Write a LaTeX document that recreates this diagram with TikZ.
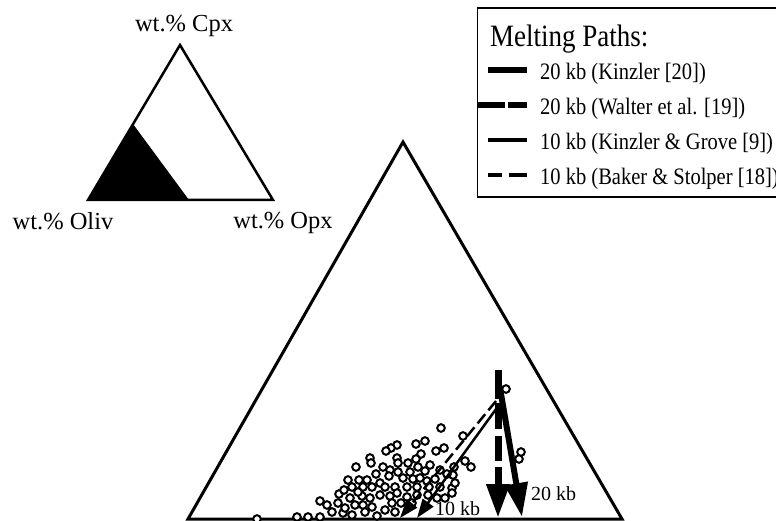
\documentclass[tikz,border=0pt]{standalone}
\usepackage{fontspec}
\setmainfont{Liberation Serif}
\usetikzlibrary{arrows.meta}
\newcommand{\tallertext}[1]{\scalebox{1}[1.15]{#1}}
\begin{document}
\begin{tikzpicture}[x=1pt,y=-1pt,
  lbl/.style={anchor=base, inner sep=0pt, font=\fontsize{24.5}{28}\selectfont},
  legtxt/.style={anchor=base west, inner sep=0pt, font=\fontsize{20.5}{26}\selectfont},
  leghead/.style={anchor=base west, inner sep=0pt, font=\fontsize{27}{32}\selectfont},
  kblbl/.style={anchor=base west, inner sep=0pt, font=\fontsize{20}{24}\selectfont},
  datapt/.style={draw=black, fill=white, line width=2pt},
  frame/.style={draw=black, line width=3pt, line join=miter},
  bigtip/.style={-{Triangle[length=34pt,width=22pt]}},
  smalltip/.style={-{Triangle[length=19pt,width=13pt]}}
]
\useasboundingbox (0,0) rectangle (776,521);
\clip (0,0) rectangle (776,521);

% ---------- small index triangle ----------
\coordinate (sA) at (180,45);
\coordinate (sL) at (88,200);
\coordinate (sR) at (273,200);
\fill[black] (sL) -- (133,124) -- (189,200) -- cycle;
\draw[line width=2.5pt, line join=miter] (sA) -- (sL) -- (sR) -- cycle;
\node[lbl] (cpx) at (184,32) {wt.\% Cpx};
\node[lbl] (oliv) at (63,230) {wt.\% Oliv};
\node[lbl] (opx) at (283,229) {wt.\% Opx};

% ---------- legend ----------
\draw[line width=1.5pt] (790,8) -- (477.5,8) -- (477.5,197) -- (790,197);
\node[leghead] (head) at (490,47) {\tallertext{Melting Paths:}};
\draw[line width=6pt] (488,70) -- (527,70);
\node[legtxt] (l1) at (540,80) {\tallertext{20 kb (Kinzler [20])}};
\draw[line width=6pt, dash pattern=on 28pt off 3pt on 30pt off 0pt] (477,105) -- (527,105);
\node[legtxt] (l2) at (540,115) {\tallertext{20 kb (Walter et al. [19])}};
\draw[line width=3.5pt] (488,140) -- (527,140);
\node[legtxt] (l3) at (540,150) {\tallertext{10 kb (Kinzler \& Grove [9])}};
\draw[line width=3.5pt, dash pattern=on 14pt off 7pt on 30pt off 0pt] (488,175) -- (527,175);
\node[legtxt] (l4) at (540,185) {\tallertext{10 kb (Baker \& Stolper [18])}};

% ---------- main triangle ----------
\coordinate (A) at (403,142);
\coordinate (L) at (188,519);
\coordinate (R) at (622,519);
\draw[frame] (A) -- (L) -- (R) -- cycle;

% data points
\foreach \x/\y in {
441/428, 463/436, 425/441, 416/444, 397/445, 391/448, 386/451, 444/448, 436/451,
421/454, 416/459, 397/458, 398/463, 370/458, 371/463, 356/467, 383/467, 390/470,
408/463, 418/467, 430/465, 425/471, 440/470, 465/461, 471/467, 454/467, 453/475,
447/474, 389/476, 403/478, 410/472, 413/479, 420/478, 427/481, 435/479, 367/480,
359/480, 348/480, 352/487, 363/487, 372/487, 380/483, 385/487, 395/487, 407/487,
417/487, 429/487, 440/487, 452/488, 455/483, 376/474, 398/472,
339/494, 350/498, 362/496, 370/498, 380/495, 390/496, 397/493, 407/497, 417/495,
428/495, 437/498, 445/498, 452/493, 344/490, 358/492, 401/503, 412/503,
320/501, 327/505, 338/503, 332/512, 343/513, 352/515, 355/505, 363/505, 372/507,
377/516, 392/503, 385/510, 365/512, 320/517, 308/517, 297/517, 257/519, 345/508,
395/512,
506/389, 521/452, 519/459}
  {\draw[datapt] (\x,\y) circle (3.8pt);}

% melting paths
\coordinate (w0) at (498,370);
\coordinate (w1) at (498,518);
\coordinate (k0) at (500,388);
\coordinate (k1) at (522,517);
\coordinate (g0) at (499,405);
\coordinate (g1) at (417,518);
\coordinate (b0) at (496,401);
\coordinate (b1) at (400,518);

\draw[line width=2.5pt, smalltip] (g0) -- (g1);
\draw[line width=2.5pt, dash pattern=on 12pt off 5pt, smalltip] (b0) -- (b1);
\draw[line width=7pt, dash pattern=on 29pt off 4pt on 26pt off 7pt on 25pt off 6pt on 80pt off 0pt, bigtip] (w0) -- (w1);
\draw[line width=6pt, bigtip] (k0) -- (k1);

\node[kblbl] (t10) at (435,515) {10 kb};
\node[kblbl] (t20) at (531,500) {20 kb};
\end{tikzpicture}
\end{document}
